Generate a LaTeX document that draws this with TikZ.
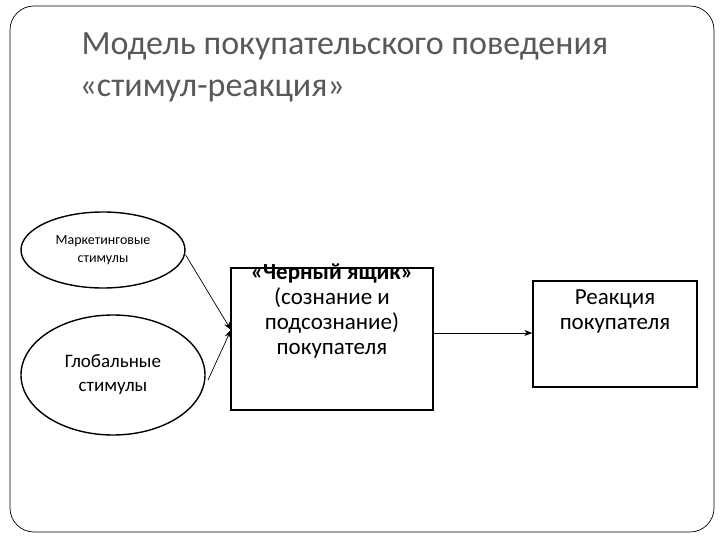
\documentclass[tikz,border=0pt]{standalone}
\usepackage{fontspec}
\setmainfont{Carlito}
\usetikzlibrary{shapes.geometric,arrows.meta}
\begin{document}
\begin{tikzpicture}[x=1pt,y=-1pt,
  ell/.style={draw,line width=1.4pt,ellipse,align=center,inner sep=0pt},
  bx/.style={draw,line width=1.4pt,align=center,inner sep=0pt},
  arr/.style={-{Stealth[length=8pt,width=6pt]},line width=0.7pt}]
\useasboundingbox (0,0) rectangle (720,540);
\draw[line width=0.7pt,rounded corners=24pt] (10,6) rectangle (714,532);
\node[anchor=base west,text=black!65,font=\fontsize{34}{40}\selectfont] (t1) at (78,55) {Модель покупательского поведения};
\node[anchor=base west,text=black!65,font=\fontsize{34}{40}\selectfont] (t2) at (76,97) {«стимул-реакция»};
\node[ell,minimum width=164pt,minimum height=76pt,font=\fontsize{14}{18}\selectfont] (e1) at (103,250) {Маркетинговые\\стимулы};
\node[ell,minimum width=184pt,minimum height=120pt,font=\fontsize{19}{24}\selectfont] (e2) at (113,375) {Глобальные\\стимулы};
\node[bx,minimum width=202pt,minimum height=142pt] (b1) at (332,339) {};
\node[align=center,font=\fontsize{23}{25}\selectfont,anchor=north] (b1t) at (332,260) {\textbf{«Черный ящик»}\\(сознание и\\подсознание)\\покупателя};
\node[bx,minimum width=164pt,minimum height=106pt] (b2) at (615,334) {};
\node[align=center,font=\fontsize{23}{25}\selectfont,anchor=north] (b2t) at (615,286) {Реакция\\покупателя};
\coordinate (m) at (231,330);
\draw[arr] (e1.east) ++(0,5) coordinate (s1) -- (m);
\draw[arr] (208,380) coordinate (s2) -- (m);
\draw[arr] (433,333) coordinate (s3) -- (b2.west |- s3);
\end{tikzpicture}
\end{document}
